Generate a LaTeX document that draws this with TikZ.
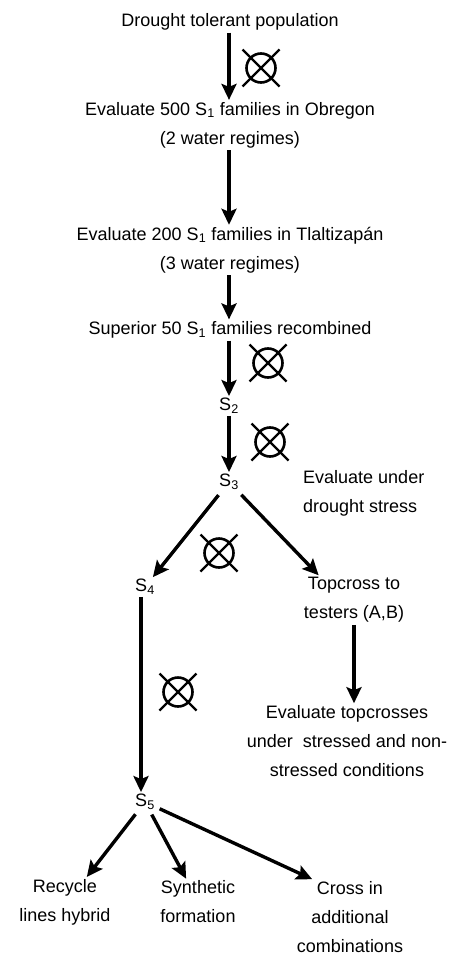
\documentclass[tikz,border=0pt]{standalone}
\usepackage{fontspec}
\setmainfont{Liberation Sans}
\usetikzlibrary{arrows.meta}

\tikzset{
  stage/.style={align=center, font=\fontsize{18}{29}\selectfont, inner sep=2pt},
  flow/.style={line width=3.4pt, -{Stealth[length=16pt,width=15pt,inset=3pt]}},
  selfing/.pic={
    \draw [line width=2.6pt] (0,0) circle (14.5);
    \draw [line width=2.4pt] (-18.5,-18.5) -- (18.5,18.5) (-18.5,18.5) -- (18.5,-18.5);
  }
}

\begin{document}
\begin{tikzpicture}[x=1pt, y=-1pt]
    \useasboundingbox (0,0) rectangle (448,955);
      % main column
      \node [stage] (pop) at (230,22) {Drought tolerant population};
      \node [stage] (obr) at (230,125) {Evaluate 500 S\textsubscript{1} families in Obregon\\(2 water regimes)};
      \node [stage] (tla) at (230,250) {Evaluate 200 S\textsubscript{1} families in Tlaltizap\'an\\(3 water regimes)};
      \node [stage] (rec) at (230,330) {Superior 50 S\textsubscript{1} families recombined};
      \node [stage] (s2) at (229,406) {S\textsubscript{2}};
      \node [stage] (s3) at (229,482) {S\textsubscript{3}};
      \node [stage, align=left, anchor=west] (ds) at (301,493) {Evaluate under\\drought stress};
      % branches below S3
      \node [stage] (s4) at (145,587) {S\textsubscript{4}};
      \node [stage] (top) at (354,600) {Topcross to\\testers (A,B)};
      \node [stage] (evt) at (347,741) {Evaluate topcrosses\\under\ \ stressed and non-\\stressed conditions};
      \node [stage] (s5) at (145,802) {S\textsubscript{5}};
      \node [stage] (cyc) at (65,902) {Recycle\\lines hybrid};
      \node [stage] (syn) at (198,902) {Synthetic\\formation};
      \node [stage] (crs) at (350,917) {Cross in\\additional\\combinations};

      \draw [flow] (pop.south -| 229,0) -- (obr.north -| 229,0);
      \draw [flow] (obr.south -| 229,0) -- (tla.north -| 229,0);
      \draw [flow] (tla.south -| 229,0) -- (rec.north -| 229,0);
      \draw [flow] (rec.south -| s2) -- (s2);
      \draw [flow] (s2) -- (s3);
      \draw [flow, shorten <=4pt] (s3) -- (s4);
      \draw [flow, shorten <=4pt] (s3) -- (top.145);
      \draw [flow] (s4.south -| 141,0) -- (s5.north -| 141,0);
      \draw [flow] (top.south) -- (top.south |- evt.north);
      \draw [flow, shorten <=3pt] (s5) -- (cyc.49);
      \draw [flow, shorten <=3pt] (s5) -- (syn.117);
      \draw [flow, shorten <=3pt] (s5) -- (crs.135);

      % selfing marks
      \pic at (261,68) {selfing};
      \pic at (268,363) {selfing};
      \pic at (270,442) {selfing};
      \pic at (219,553) {selfing};
      \pic at (178,692) {selfing};
    \end{tikzpicture}
\end{document}
